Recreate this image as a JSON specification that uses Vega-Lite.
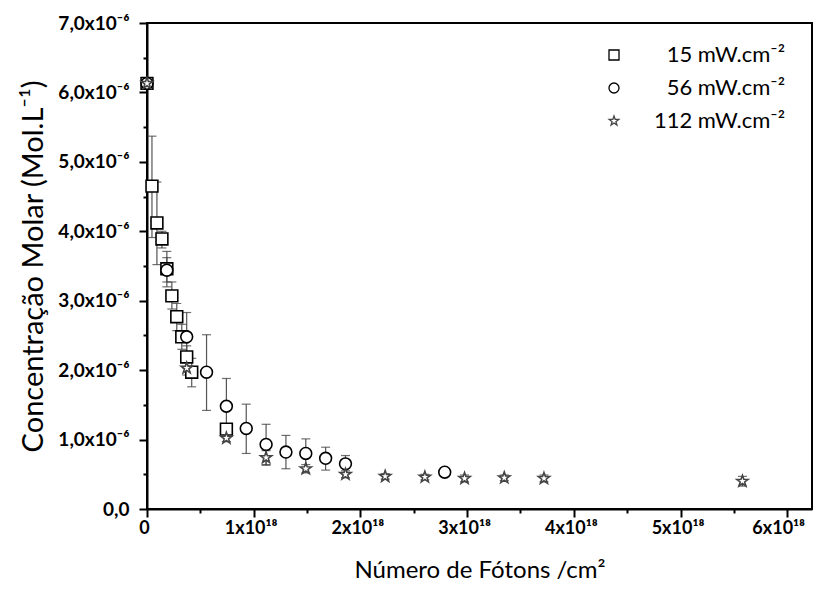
{
  "$schema": "https://vega.github.io/schema/vega-lite/v6.json",
  "width": 665,
  "height": 486,
  "autosize": {"type": "none"},
  "padding": {"left": 147, "top": 23, "right": 1, "bottom": 92},
  "background": "white",
  "config": {
    "view": {"stroke": "black", "strokeWidth": 2},
    "font": "Lato",
    "axis": {
      "domainColor": "black", "domainWidth": 2, "tickColor": "black", "tickWidth": 2,
      "grid": false, "labelFont": "Lato", "labelFontWeight": "bold", "labelFontSize": 19,
      "labelColor": "black", "titleFont": "Lato", "titleFontWeight": "normal",
      "titleFontSize": 24, "titleColor": "black", "labelOverlap": false, "labelFlush": false
    }
  },
  "data": {
    "values": [
      {"serie": "15", "x": 0, "y": 6.13e-6, "lo": 6.13e-6, "hi": 6.13e-6},
      {"serie": "15", "x": 4.65e16, "y": 4.65e-6, "lo": 3.91e-6, "hi": 5.37e-6},
      {"serie": "15", "x": 9.3e16, "y": 4.12e-6, "lo": 3.52e-6, "hi": 4.71e-6},
      {"serie": "15", "x": 1.40e17, "y": 3.89e-6, "lo": 3.76e-6, "hi": 4.0e-6},
      {"serie": "15", "x": 1.86e17, "y": 3.46e-6, "lo": 3.2e-6, "hi": 3.71e-6},
      {"serie": "15", "x": 2.33e17, "y": 3.07e-6, "lo": 2.88e-6, "hi": 3.27e-6},
      {"serie": "15", "x": 2.79e17, "y": 2.77e-6, "lo": 2.57e-6, "hi": 2.96e-6},
      {"serie": "15", "x": 3.26e17, "y": 2.48e-6, "lo": 2.3e-6, "hi": 2.66e-6},
      {"serie": "15", "x": 3.72e17, "y": 2.19e-6, "lo": 2.03e-6, "hi": 2.35e-6},
      {"serie": "15", "x": 4.19e17, "y": 1.97e-6, "lo": 1.76e-6, "hi": 2.17e-6},
      {"serie": "15", "x": 7.44e17, "y": 1.15e-6, "lo": 1.1e-6, "hi": 1.2e-6},
      {"serie": "56", "x": 0, "y": 6.13e-6, "lo": 6.13e-6, "hi": 6.13e-6},
      {"serie": "56", "x": 1.86e17, "y": 3.44e-6, "lo": 3.27e-6, "hi": 3.62e-6},
      {"serie": "56", "x": 3.72e17, "y": 2.48e-6, "lo": 2.14e-6, "hi": 2.83e-6},
      {"serie": "56", "x": 5.58e17, "y": 1.97e-6, "lo": 1.42e-6, "hi": 2.51e-6},
      {"serie": "56", "x": 7.44e17, "y": 1.48e-6, "lo": 1.08e-6, "hi": 1.88e-6},
      {"serie": "56", "x": 9.3e17, "y": 1.16e-6, "lo": 0.80e-6, "hi": 1.51e-6},
      {"serie": "56", "x": 1.116e18, "y": 0.93e-6, "lo": 0.64e-6, "hi": 1.22e-6},
      {"serie": "56", "x": 1.302e18, "y": 0.82e-6, "lo": 0.58e-6, "hi": 1.06e-6},
      {"serie": "56", "x": 1.488e18, "y": 0.80e-6, "lo": 0.60e-6, "hi": 1.01e-6},
      {"serie": "56", "x": 1.674e18, "y": 0.73e-6, "lo": 0.56e-6, "hi": 0.89e-6},
      {"serie": "56", "x": 1.86e18, "y": 0.65e-6, "lo": 0.52e-6, "hi": 0.77e-6},
      {"serie": "56", "x": 2.79e18, "y": 0.53e-6, "lo": 0.50e-6, "hi": 0.56e-6},
      {"serie": "112", "x": 0, "y": 6.13e-6, "lo": 6.13e-6, "hi": 6.13e-6},
      {"serie": "112", "x": 3.72e17, "y": 2.03e-6, "lo": 1.93e-6, "hi": 2.13e-6},
      {"serie": "112", "x": 7.44e17, "y": 1.02e-6, "lo": 0.97e-6, "hi": 1.08e-6},
      {"serie": "112", "x": 1.116e18, "y": 0.74e-6, "lo": 0.63e-6, "hi": 0.84e-6},
      {"serie": "112", "x": 1.488e18, "y": 0.58e-6, "lo": 0.52e-6, "hi": 0.64e-6},
      {"serie": "112", "x": 1.86e18, "y": 0.50e-6, "lo": 0.45e-6, "hi": 0.55e-6},
      {"serie": "112", "x": 2.232e18, "y": 0.47e-6, "lo": 0.43e-6, "hi": 0.51e-6},
      {"serie": "112", "x": 2.604e18, "y": 0.46e-6, "lo": 0.42e-6, "hi": 0.50e-6},
      {"serie": "112", "x": 2.976e18, "y": 0.44e-6, "lo": 0.39e-6, "hi": 0.49e-6},
      {"serie": "112", "x": 3.348e18, "y": 0.45e-6, "lo": 0.41e-6, "hi": 0.49e-6},
      {"serie": "112", "x": 3.72e18, "y": 0.44e-6, "lo": 0.39e-6, "hi": 0.49e-6},
      {"serie": "112", "x": 5.58e18, "y": 0.40e-6, "lo": 0.33e-6, "hi": 0.47e-6}
    ]
  },
  "encoding": {
    "x": {
      "field": "x", "type": "quantitative",
      "scale": {"domain": [0, 6.232e18], "nice": false, "zero": false},
      "axis": {
        "title": "Número de Fótons /cm²",
        "labelFontSize": 18,
        "values": [0, 5e17, 1e18, 1.5e18, 2e18, 2.5e18, 3e18, 3.5e18, 4e18, 4.5e18, 5e18, 5.5e18, 6e18],
        "labelExpr": "datum.value == 0 ? '0' : (abs(datum.value/1e18 - round(datum.value/1e18)) < 0.01 ? round(datum.value/1e18) + 'x10¹⁸' : '')",
        "tickSize": {"condition": {"test": "abs(datum.value/1e18 - round(datum.value/1e18)) < 0.01", "value": 8}, "value": 4},
        "labelOffset": {"condition": {"test": "datum.value > 5.9e18", "value": -9}, "value": -3},
        "labelPadding": 2,
        "titleY": 61, "titleBaseline": "middle"
      }
    },
    "y": {
      "field": "y", "type": "quantitative",
      "scale": {"domain": [0, 7e-6], "nice": false, "zero": false},
      "axis": {
        "title": "Concentração Molar (Mol.L⁻¹)",
        "titleFontSize": 29,
        "values": [0, 5e-7, 1e-6, 1.5e-6, 2e-6, 2.5e-6, 3e-6, 3.5e-6, 4e-6, 4.5e-6, 5e-6, 5.5e-6, 6e-6, 6.5e-6, 7e-6],
        "labelExpr": "datum.value == 0 ? '0,0' : (abs(datum.value*1e6 - round(datum.value*1e6)) < 0.01 ? replace(format(datum.value*1e6, '.1f'), '.', ',') + 'x10⁻⁶' : '')",
        "tickSize": {"condition": {"test": "abs(datum.value*1e6 - round(datum.value*1e6)) < 0.01", "value": 8}, "value": 4},
        "labelPadding": 10,
        "titleX": -114, "titleBaseline": "middle"
      }
    }
  },
  "layer": [
    {
      "mark": {"type": "rule", "color": "#555555", "strokeWidth": 1.2},
      "encoding": {"y": {"field": "lo", "type": "quantitative"}, "y2": {"field": "hi"}}
    },
    {
      "mark": {"type": "tick", "orient": "horizontal", "color": "#333333", "size": 9, "thickness": 1.2},
      "encoding": {"y": {"field": "lo", "type": "quantitative"}}
    },
    {
      "mark": {"type": "tick", "orient": "horizontal", "color": "#333333", "size": 9, "thickness": 1.2},
      "encoding": {"y": {"field": "hi", "type": "quantitative"}}
    },
    {
      "mark": {"type": "point", "filled": true, "fill": "white", "fillOpacity": 1, "strokeWidth": 1.6, "strokeOpacity": 1, "size": 140},
      "encoding": {
        "shape": {
          "field": "serie", "type": "nominal",
          "scale": {"domain": ["15", "56", "112"], "range": ["square", "circle", "M0,-1L0.235,-0.324L0.951,-0.309L0.380,0.124L0.588,0.809L0,0.4L-0.588,0.809L-0.380,0.124L-0.951,-0.309L-0.235,-0.324Z"]},
          "legend": {
            "title": null, "orient": "none", "legendX": 456, "legendY": 21,
            "labelExpr": "datum.label + ' mW.cm⁻²'",
            "labelFont": "Lato", "labelFontSize": 22, "labelColor": "black",
            "labelAlign": "right", "labelOffset": 160, "labelLimit": 300,
            "symbolSize": 100, "symbolFillColor": "white",
            "symbolStrokeWidth": 1.3, "symbolOpacity": 1, "rowPadding": 11
          }
        },
        "stroke": {
          "field": "serie", "type": "nominal",
          "scale": {"domain": ["15", "56", "112"], "range": ["black", "black", "#444444"]}
        }
      }
    }
  ]
}
